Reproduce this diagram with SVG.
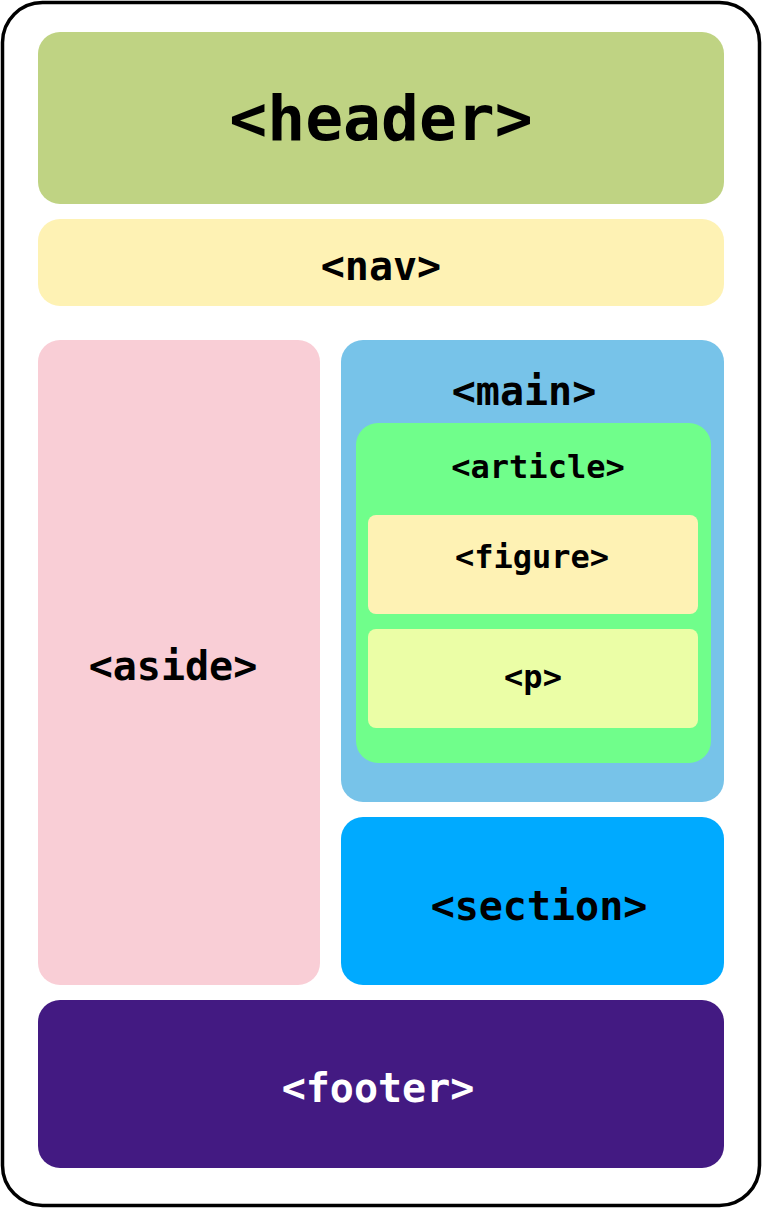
<svg xmlns="http://www.w3.org/2000/svg" width="762" height="1208" viewBox="0 0 762 1208">
<style>
text{font-family:"DejaVu Sans Mono","Liberation Mono",monospace;font-weight:bold;text-anchor:middle;fill:#000}
.big{font-size:40px}
.sm{font-size:32px}
</style>
<rect x="0" y="0" width="762" height="1208" fill="#fff"/>
<g id="frame"><rect x="2.5" y="2.5" width="757" height="1203" rx="40" fill="#fff" stroke="#000" stroke-width="3.5"/></g>
<g id="header"><rect x="38" y="32" width="686" height="172" rx="22" fill="#BFD383"/><text x="381" y="140" style="font-size:63px">&lt;header&gt;</text></g>
<g id="nav"><rect x="38" y="219" width="686" height="87" rx="22" fill="#FEF2B4"/><text class="big" x="381" y="280">&lt;nav&gt;</text></g>
<g id="aside"><rect x="38" y="340" width="282" height="645" rx="22" fill="#F9CED6"/><text class="big" x="173" y="680">&lt;aside&gt;</text></g>
<g id="main"><rect x="341" y="340" width="383" height="462" rx="22" fill="#77C3E9"/><text class="big" x="524" y="405">&lt;main&gt;</text></g>
<g id="article"><rect x="356" y="423" width="355" height="340" rx="22" fill="#70FE8B"/><text class="sm" x="538" y="478">&lt;article&gt;</text></g>
<g id="figure"><rect x="368" y="515" width="330" height="99" rx="8" fill="#FEF2B4"/><text class="sm" x="532" y="568">&lt;figure&gt;</text></g>
<g id="p"><rect x="368" y="629" width="330" height="99" rx="8" fill="#EBFEA6"/><text class="sm" x="533" y="688">&lt;p&gt;</text></g>
<g id="section"><rect x="341" y="817" width="383" height="168" rx="22" fill="#00AAFF"/><text class="big" x="539" y="920">&lt;section&gt;</text></g>
<g id="footer"><rect x="38" y="1000" width="686" height="168" rx="22" fill="#431A82"/><text class="big" x="378" y="1102" style="fill:#fff">&lt;footer&gt;</text></g>
<g id="connectors"/>
</svg>
